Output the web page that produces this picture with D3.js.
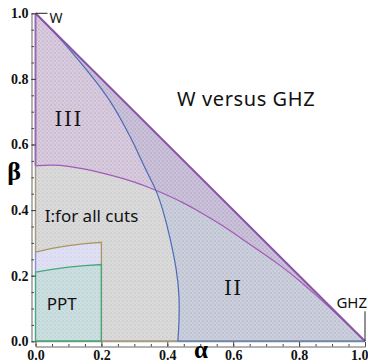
<!DOCTYPE html>
<html>
<head>
<meta charset="utf-8">
<script src="https://cdn.jsdelivr.net/npm/d3@7"></script>
<style>
  body { margin: 0; background: #fff; }
  svg { display: block; }
</style>
</head>
<body>
<div id="chart"></div>
<script>
// boundary curves, as [alpha, beta]
const purpleCurve = [[0, 0.535], [0.05, 0.538], [0.1, 0.534], [0.15, 0.525], [0.2, 0.514], [0.25, 0.501],
    [0.3, 0.486], [0.35, 0.467], [0.4, 0.446], [0.45, 0.422], [0.5, 0.394], [0.55, 0.364], [0.6, 0.331],
    [0.65, 0.296], [0.7, 0.262], [0.75, 0.226], [0.8, 0.186], [0.85, 0.142], [0.9, 0.096], [0.95, 0.049], [1, 0]];
const blueCurve = [[0, 1], [0.04, 0.959], [0.084, 0.913], [0.135, 0.852], [0.185, 0.791], [0.236, 0.72],
    [0.271, 0.655], [0.3, 0.6], [0.317, 0.56], [0.347, 0.498], [0.368, 0.458], [0.39, 0.39], [0.408, 0.318],
    [0.429, 0.217], [0.437, 0.135], [0.436, 0.06], [0.432, 0]];
const tanCurve = [[0, 0.272], [0.05, 0.283], [0.1, 0.292], [0.15, 0.298], [0.2, 0.302]];
const greenCurve = [[0, 0.211], [0.05, 0.219], [0.1, 0.226], [0.15, 0.231], [0.2, 0.234]];
const simplex = [[0, 0], [1, 0], [0, 1]];
const majorTicks = [0, 0.2, 0.4, 0.6, 0.8, 1.0];
const minorTicks = d3.range(0, 21).map(i => i / 20);
const regionLabels = [
    { text: "III", a: 0.058, b: 0.655, size: 20, serif: true },
    { text: "I:for all cuts", a: 0.028, b: 0.363, size: 17, serif: false },
    { text: "PPT", a: 0.034, b: 0.095, size: 17, serif: false },
    { text: "II", a: 0.572, b: 0.14, size: 20, serif: true }
];

const width = 368, height = 364;

const svg = d3.select("#chart")
    .append("svg")
    .attr("width", width)
    .attr("height", height);

const x = d3.scaleLinear().domain([0, 1]).range([35.5, 365]);
const y = d3.scaleLinear().domain([0, 1]).range([341.3, 13.3]);

const line = d3.line().x(d => x(d[0])).y(d => y(d[1]));
const smooth = d3.line().curve(d3.curveBasis).x(d => x(d[0])).y(d => y(d[1]));
const poly = pts => line(pts) + "Z";

const defs = svg.append("defs");
const pat = defs.append("pattern")
    .attr("id", "mesh")
    .attr("patternUnits", "userSpaceOnUse")
    .attr("width", 4).attr("height", 4);
pat.append("rect").attr("x", 0).attr("y", 0).attr("width", 2).attr("height", 2).attr("fill", "rgba(255,255,255,0.14)");
pat.append("rect").attr("x", 2).attr("y", 2).attr("width", 2).attr("height", 2).attr("fill", "rgba(255,255,255,0.14)");
pat.append("rect").attr("x", 2).attr("y", 0).attr("width", 2).attr("height", 2).attr("fill", "rgba(0,0,0,0.025)");

// region below the purple curve
const belowPurple = purpleCurve.concat([[1, 0], [0, 0]]);
defs.append("clipPath").attr("id", "clipBelow")
    .append("path").attr("d", poly(belowPurple));

// region to the right of the blue curve
const rightOfBlue = blueCurve.concat([[1, 0]]);

const plot = svg.append("g");

plot.append("path").attr("d", poly(simplex)).attr("fill", "#d2c2d8");
plot.append("path").attr("d", poly(belowPurple)).attr("fill", "#d5d5d6");
plot.append("path").attr("d", poly(rightOfBlue)).attr("fill", "#c2b8d4");
plot.append("path").attr("d", poly(rightOfBlue)).attr("fill", "#c4c8d6")
    .attr("clip-path", "url(#clipBelow)");

const lavender = [[0, 0]].concat(tanCurve, [[0.2, 0]]);
const ppt = [[0, 0]].concat(greenCurve, [[0.2, 0]]);
plot.append("path").attr("d", poly(lavender)).attr("fill", "#dcdcf3");
plot.append("path").attr("d", poly(ppt)).attr("fill", "#c5dadb");

plot.append("path").attr("d", poly(simplex)).attr("fill", "url(#mesh)");

// boundaries
plot.append("path").attr("d", line([[0, 0], [0.432, 0]])).attr("stroke", "#a39a80").attr("stroke-width", 2).attr("fill", "none");
plot.append("path").attr("d", line([[0.432, 0], [1, 0]])).attr("stroke", "#7283a8").attr("stroke-width", 2).attr("fill", "none");
plot.append("path").attr("d", line([[0, 0.535], [0, 1]])).attr("stroke", "#9966b0").attr("stroke-width", 2).attr("fill", "none");
plot.append("path").attr("d", line([[0, 0.272], [0, 0.535]])).attr("stroke", "#a39a80").attr("stroke-width", 1.5).attr("fill", "none");
plot.append("path").attr("d", line([[0, 0.211], [0, 0.272]])).attr("stroke", "#8f8fd0").attr("stroke-width", 1.5).attr("fill", "none");
plot.append("path").attr("d", line([[0, 0], [0, 0.211]])).attr("stroke", "#4aa882").attr("stroke-width", 1.5).attr("fill", "none");

plot.append("path").attr("d", line(tanCurve.concat([[0.2, 0]]))).attr("stroke", "#a8975e").attr("stroke-width", 1.3).attr("fill", "none");
plot.append("path").attr("d", line(greenCurve.concat([[0.2, 0]]))).attr("stroke", "#45a87a").attr("stroke-width", 1.3).attr("fill", "none");
plot.append("path").attr("d", line([[0, 0], [0.2, 0]])).attr("stroke", "#45a87a").attr("stroke-width", 1.5).attr("fill", "none");

plot.append("path").attr("d", smooth(purpleCurve))
    .attr("stroke", "#a35ab8").attr("stroke-width", 1.2).attr("fill", "none");
plot.append("path").attr("d", smooth(blueCurve))
    .attr("stroke", "#4a6cb8").attr("stroke-width", 1.2).attr("fill", "none");
plot.append("path").attr("d", line([[0, 1], [1, 0]])).attr("stroke", "#8a55a8").attr("stroke-width", 2).attr("fill", "none");

// axes
const tickFmt = d3.format(".1f");
svg.append("g")
    .attr("class", "xaxis")
    .attr("transform", "translate(0,346.5)")
    .call(d3.axisBottom(x).tickValues(majorTicks).tickFormat(tickFmt).tickSizeInner(-4.5).tickSizeOuter(0).tickPadding(4));
svg.append("g")
    .attr("transform", "translate(0,346.5)")
    .call(d3.axisBottom(x).tickValues(minorTicks).tickFormat("").tickSizeInner(-2.5).tickSizeOuter(0))
    .select(".domain").remove();

svg.append("g")
    .attr("transform", "translate(31.5,0)")
    .call(d3.axisLeft(y).tickValues(majorTicks).tickFormat(tickFmt).tickSizeInner(-4.5).tickSizeOuter(0).tickPadding(3));
svg.append("g")
    .attr("transform", "translate(31.5,0)")
    .call(d3.axisLeft(y).tickValues(minorTicks).tickFormat("").tickSizeInner(-2.5).tickSizeOuter(0))
    .select(".domain").remove();

svg.selectAll(".tick line").attr("stroke", "#444");
svg.selectAll(".domain").attr("stroke", "#666");
svg.selectAll(".tick text")
    .style("font-family", "'Liberation Serif', serif")
    .style("font-weight", "bold")
    .style("font-size", "14px")
    .attr("fill", "#111");

// keep the last bottom label inside the picture
svg.selectAll(".xaxis .tick text")
    .filter(d => d === 1)
    .attr("text-anchor", "end")
    .attr("x", 3);

svg.append("text")
    .attr("x", 14).attr("y", 180)
    .attr("text-anchor", "middle")
    .style("font-family", "'Liberation Serif', serif")
    .style("font-weight", "bold")
    .style("font-size", "26px")
    .text("β");

svg.append("text")
    .attr("x", 201).attr("y", 358)
    .attr("text-anchor", "middle")
    .style("font-family", "'Liberation Serif', serif")
    .style("font-weight", "bold")
    .style("font-size", "25px")
    .text("α");

// labels
const labelFont = "'Comic Sans MS', 'Noto Sans', sans-serif";

svg.selectAll("region_labels")
    .data(regionLabels)
    .enter()
    .append("text")
    .attr("x", d => x(d.a))
    .attr("y", d => y(d.b))
    .text(d => d.text)
    .style("font-family", d => d.serif ? "'DejaVu Serif', serif" : labelFont)
    .style("letter-spacing", d => d.serif ? "1.5px" : "0px")
    .style("font-size", d => d.size + "px")
    .attr("fill", "#111");

svg.append("text")
    .attr("x", 177).attr("y", 106)
    .text("W versus GHZ")
    .style("font-family", labelFont)
    .style("font-size", "20px")
    .style("letter-spacing", "0.6px")
    .attr("fill", "#111");

// state callouts
svg.append("line")
    .attr("x1", x(0)).attr("y1", y(1))
    .attr("x2", x(0) + 12).attr("y2", y(1))
    .attr("stroke", "#222").attr("stroke-width", 1);
svg.append("text")
    .attr("x", x(0) + 14).attr("y", y(1) + 10)
    .text("W")
    .style("font-family", labelFont)
    .style("font-size", "14px")
    .attr("fill", "#111");

svg.append("line")
    .attr("x1", x(1)).attr("y1", y(0))
    .attr("x2", x(1)).attr("y2", y(0) - 30)
    .attr("stroke", "#222").attr("stroke-width", 1);
svg.append("text")
    .attr("x", x(1) + 2).attr("y", y(0) - 33)
    .attr("text-anchor", "end")
    .text("GHZ")
    .style("font-family", labelFont)
    .style("font-size", "15px")
    .attr("fill", "#111");
</script>
</body>
</html>
